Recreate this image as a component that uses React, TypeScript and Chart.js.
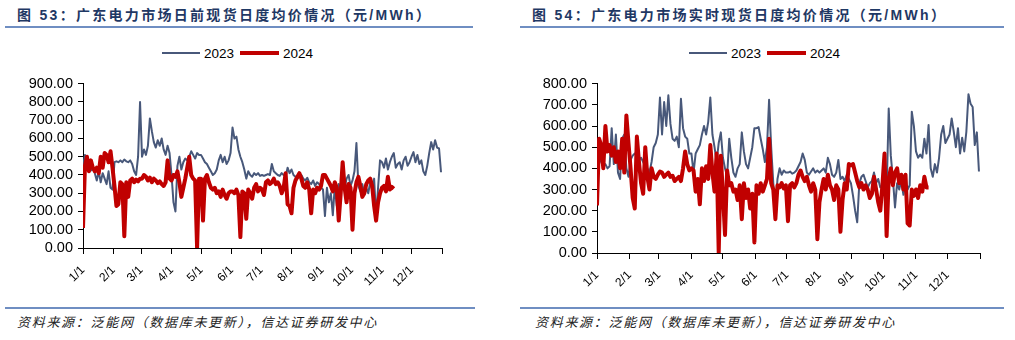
import React, { useEffect, useRef } from "react";
import { Chart, registerables } from "chart.js";

Chart.register(...registerables);

// ---------- data ----------
const MONTH_TICKS = [0, 31, 59, 90, 120, 151, 181, 212, 243, 273, 304, 334, 365];
const MONTH_LABELS = ["1/1", "2/1", "3/1", "4/1", "5/1", "6/1", "7/1", "8/1", "9/1", "10/1", "11/1", "12/1"];
const STEP_DAYS = 2; // one value every 2 days, starting 1/1

// 图53 day-ahead, 2023
const DA_2023 = [
  450, 510, 440, 430, 425, 435, 410, 370, 420, 360, 410, 380, 350, 420, 330, 320,
  470, 475, 470, 480, 470, 485, 475, 470, 480, 460, 420, 400, 500, 800,
  500, 540, 510, 560, 710, 640, 580, 550, 590, 560, 600, 540, 510, 560, 520,
  400, 250, 200, 450, 500, 430, 470, 490, 480, 500, 530, 510, 490, 520, 510,
  510, 490, 470, 460, 440, 420, 400, 410, 430, 480, 510, 470, 500, 460, 480, 520,
  660, 600, 610, 540, 500, 470, 430, 380, 420, 400, 390, 410, 400, 410, 395,
  400, 395, 400, 405, 400, 460, 420, 410, 400, 395, 410, 400, 390, 440, 410,
  430, 400, 390, 380, 395, 400, 380, 370, 385, 360, 350, 370, 340, 360, 350, 330,
  320, 175, 330, 250, 300, 180, 340, 230, 350, 310, 360, 330, 380, 400, 340,
  370, 420, 575, 340, 310, 350, 290, 330, 300, 360, 320, 380, 170, 330, 480,
  470, 440, 490, 430, 470, 500, 520, 440, 460, 470, 430, 480, 500, 450, 470,
  500, 525, 470, 510, 460, 480, 420, 400, 450, 520, 580, 540, 590, 550, 545, 415,
];

// 图53 day-ahead, 2024
const DA_2024 = [
  110, 450, 500, 420, 480, 440, 420, 440, 410, 500, 440, 520, 510, 470, 530, 440,
  340, 230, 240, 360, 350, 65, 360, 280, 370, 380, 360, 375, 365, 380,
  380, 400, 390, 370, 385, 360, 380, 370, 355, 365, 350, 340, 360, 480, 380,
  370, 400, 390, 420, 360, 280, 330, 380, 440, 500, 400, 380, 370, 0, 380,
  380, 150, 380, 400, 360, 330, 320, 330, 300, 310, 280, 320, 290, 270, 300, 310,
  310, 300, 320, 290, 60, 310, 300, 160, 320, 300, 270, 330, 350, 310, 330,
  320, 290, 360, 370, 350, 360, 380, 350, 360, 340, 300, 330, 410, 240, 230,
  190, 330, 370, 390, 410, 380, 340, 330, 360, 320, 190, 320, 300, 330, 320, 340,
  400, 400, 380, 360, 340, 310, 360, 330, 150, 300, 470, 330, 250, 350, 330,
  100, 300, 360, 390, 340, 280, 300, 350, 370, 380, 340, 230, 150, 250, 300,
  330, 340, 310, 390, 320, 335, 325,
];

// 图54 real-time, 2023
const RT_2023 = [
  500, 460, 430, 410, 420, 400, 410, 590, 420, 560, 380, 350, 540, 560, 400, 360,
  440, 460, 470, 460, 440, 450, 430, 410, 400, 380, 430, 500, 520, 560,
  735, 560, 713, 600, 745, 610, 540, 530, 550, 500, 729, 590, 550, 540, 470,
  470, 380, 470, 490, 510, 560, 600, 560, 620, 735, 560, 500, 430, 520, 570,
  450, 400, 360, 540, 450, 380, 360, 400, 420, 570, 480, 420, 400, 450, 500, 590,
  590, 595, 540, 490, 430, 500, 724, 500, 330, 205, 350, 400, 370, 390, 380,
  380, 385, 375, 380, 390, 410, 430, 470, 440, 380, 370, 385, 400, 380, 390,
  380, 390, 400, 380, 450, 420, 370, 360, 380, 440, 350, 360, 340, 370, 350, 330,
  270, 200, 145, 330, 360, 370, 340, 310, 330, 340, 380, 330, 350, 310, 320,
  350, 280, 683, 460, 350, 215, 330, 300, 340, 275, 330, 300, 320, 668, 600,
  480, 450, 465, 450, 540, 470, 605, 400, 360, 420, 380, 450, 560, 600, 520,
  540, 560, 636, 573, 500, 590, 470, 545, 480, 573, 750, 705, 690, 510, 570, 385,
];

// 图54 real-time, 2024
const RT_2024 = [
  225, 540, 510, 400, 600, 480, 510, 460, 500, 430, 480, 400, 540, 380, 650, 520,
  400, 260, 210, 550, 430, 330, 280, 500, 360, 300, 400, 360, 350, 370,
  385, 380, 360, 370, 380, 360, 365, 340, 350, 360, 340, 400, 480, 420, 390,
  400, 390, 290, 350, 230, 400, 340, 410, 350, 510, 380, 290, 470, 0, 460,
  280, 85, 390, 320, 330, 290, 300, 250, 320, 160, 330, 260, 300, 210, 280, 50,
  320, 280, 330, 290, 320, 350, 540, 330, 300, 160, 320, 310, 330, 305, 320,
  150, 320, 330, 310, 330, 370, 390, 360, 340, 360, 320, 290, 330, 300, 65,
  240, 300, 350, 300, 370, 320, 300, 250, 320, 300, 100, 250, 330, 300, 420, 415,
  420, 380, 340, 310, 330, 300, 320, 300, 260, 280, 360, 300, 240, 200, 320,
  470, 80, 350, 400, 320, 380, 400, 330, 370, 300, 370, 140, 130, 300, 270,
  300, 260, 320, 290, 360, 310, 310,
];

const SERIES_NAMES = ["2023", "2024"];

// ---------- styles ----------
const BLUE = "#48587a";
const RED = "#c00000";
const TITLE_COLOR = "#1f3864";
const RULE_COLOR = "#6f8ec2";
const LATIN = '"Liberation Sans", Arial, Helvetica, sans-serif';
const CJK = '"Liberation Sans", Arial, "Noto Sans CJK SC", sans-serif';

type ChartProps = {
  s23: number[];
  s24: number[];
  yMax: number;
  left: number;
  top: number;
  width: number;
  height: number;
  yWidth: number;
  xHeight: number;
  padRight: number;
  padTop: number;
};

function PriceChart(p: ChartProps) {
  const ref = useRef<HTMLCanvasElement | null>(null);
  useEffect(() => {
    if (!ref.current) return;
    const toPts = (arr: number[]) => arr.map((v, i) => ({ x: i * STEP_DAYS, y: v }));
    const chart = new Chart(ref.current, {
      type: "line",
      data: {
        datasets: [
          {
            label: SERIES_NAMES[0],
            data: toPts(p.s23),
            borderColor: BLUE,
            backgroundColor: BLUE,
            borderWidth: 2,
            pointRadius: 0,
            tension: 0,
            borderJoinStyle: "round",
            order: 1,
          },
          {
            label: SERIES_NAMES[1],
            data: toPts(p.s24),
            borderColor: RED,
            backgroundColor: RED,
            borderWidth: 4,
            pointRadius: 0,
            tension: 0,
            borderJoinStyle: "round",
            order: 0,
          },
        ],
      },
      options: {
        responsive: false,
        animation: false,
        events: [],
        layout: { padding: { top: p.padTop, right: p.padRight, left: 0, bottom: 0 } },
        plugins: { legend: { display: false }, tooltip: { enabled: false } },
        scales: {
          x: {
            type: "linear",
            min: 0,
            max: 365,
            afterBuildTicks: (s: any) => {
              s.ticks = MONTH_TICKS.map((v) => ({ value: v }));
            },
            afterFit: (s: any) => {
              s.height = p.xHeight;
            },
            ticks: {
              autoSkip: false,
              minRotation: 45,
              maxRotation: 45,
              padding: 9,
              color: "#000",
              font: { family: LATIN, size: 12 },
              callback: (_v: any, i: number) => MONTH_LABELS[i] ?? "",
            },
            grid: { display: true, drawOnChartArea: false, drawTicks: true, tickLength: 6, color: "#000" },
            border: { display: true, color: "#000", width: 1 },
          },
          y: {
            min: 0,
            max: p.yMax,
            afterFit: (s: any) => {
              s.width = p.yWidth;
            },
            ticks: {
              stepSize: 100,
              autoSkip: false,
              padding: 5,
              color: "#000",
              font: { family: LATIN, size: 14.5 },
              callback: (v: any) => Number(v).toFixed(2),
            },
            grid: { display: true, drawOnChartArea: false, drawTicks: true, tickLength: 5, color: "#000" },
            border: { display: true, color: "#000", width: 1 },
          },
        },
      },
    } as any);
    return () => chart.destroy();
  }, []);
  return (
    <canvas
      ref={ref}
      width={p.width}
      height={p.height}
      style={{ position: "absolute", left: p.left, top: p.top, width: p.width, height: p.height }}
    />
  );
}

function Legend({ x, y }: { x: number; y: number }) {
  return (
    <div
      style={{
        position: "absolute",
        left: x,
        top: y - 10,
        height: 20,
        display: "flex",
        alignItems: "center",
        font: `13.5px ${LATIN}`,
        color: "#000",
        whiteSpace: "nowrap",
      }}
    >
      <span style={{ width: 38, height: 2, background: BLUE }} />
      <span style={{ marginLeft: 4 }}>{SERIES_NAMES[0]}</span>
      <span style={{ width: 39, height: 4, background: RED, marginLeft: 6 }} />
      <span style={{ marginLeft: 4 }}>{SERIES_NAMES[1]}</span>
    </div>
  );
}

function Title({ x, text }: { x: number; text: string }) {
  return (
    <div
      style={{
        position: "absolute",
        left: x,
        top: 4,
        lineHeight: "20px",
        font: `bold 14px ${CJK}`,
        letterSpacing: "2.3px",
        color: TITLE_COLOR,
        whiteSpace: "nowrap",
      }}
    >
      {text}
    </div>
  );
}

function Rule({ x, y, w }: { x: number; y: number; w: number }) {
  return <div style={{ position: "absolute", left: x, top: y, width: w, height: 2, background: RULE_COLOR }} />;
}

function Source({ x }: { x: number }) {
  return (
    <div
      style={{
        position: "absolute",
        left: x,
        top: 312,
        lineHeight: "16px",
        font: `italic 13px "Noto Sans CJK SC", sans-serif`,
        letterSpacing: "1.7px",
        color: "#222",
        whiteSpace: "nowrap",
      }}
    >
      资料来源：泛能网（数据库未更新），信达证券研发中心
    </div>
  );
}

export default function App() {
  return (
    <div style={{ position: "absolute", left: 0, top: 0, width: 1015, height: 340, background: "#fff", overflow: "hidden" }}>
      <Title x={17} text="图 53：广东电力市场日前现货日度均价情况（元/MWh）" />
      <Title x={532} text="图 54：广东电力市场实时现货日度均价情况（元/MWh）" />
      <Rule x={5} y={26} w={468} />
      <Rule x={520} y={26} w={484} />
      <Legend x={162} y={53} />
      <Legend x={689} y={53} />
      <PriceChart
        s23={DA_2023}
        s24={DA_2024}
        yMax={900}
        left={0}
        top={70}
        width={480}
        height={230}
        yWidth={83}
        xHeight={52}
        padRight={38}
        padTop={13}
      />
      <PriceChart
        s23={RT_2023}
        s24={RT_2024}
        yMax={800}
        left={520}
        top={70}
        width={489}
        height={230}
        yWidth={77}
        xHeight={47}
        padRight={29}
        padTop={13}
      />
      <Rule x={5} y={307} w={470} />
      <Rule x={520} y={307} w={484} />
      <Source x={17} />
      <Source x={535} />
    </div>
  );
}
